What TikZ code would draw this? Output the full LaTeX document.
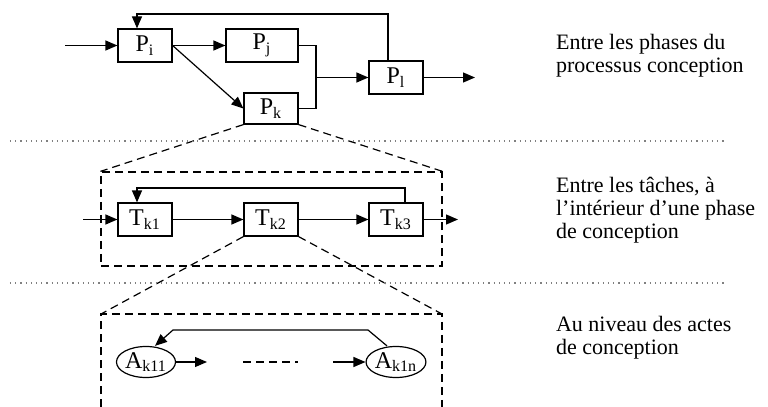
\documentclass[tikz,border=0pt]{standalone}
\usepackage{fontspec}
\setmainfont{Liberation Serif}
\usetikzlibrary{arrows.meta,positioning,calc,shapes.geometric}

\begin{document}
\begin{tikzpicture}[
    x=0.5pt, y=-0.5pt,
    font=\fontsize{11}{11.5}\selectfont,
    box/.style={draw, line width=0.6pt, inner sep=0pt, minimum width=27pt, minimum height=16.5pt, font=\fontsize{12}{12}\selectfont},
    acte/.style={draw, ellipse, line width=0.6pt, inner sep=0pt, minimum width=27pt, minimum height=15.5pt, font=\fontsize{12}{12}\selectfont},
    arr/.style={-{Triangle[length=6pt, width=5pt]}, line width=0.6pt},
    lien/.style={line width=0.6pt},
    zoomline/.style={dashed, dash pattern=on 4pt off 2.5pt, line width=0.6pt},
    sep/.style={dotted, gray, line width=0.6pt},
    lbl/.style={anchor=west, align=left},
]
\useasboundingbox (0,0) rectangle (768,407);

% Phases
\node[box] (pi) at (145,45.5) {P\textsubscript{i}};
\node[box, minimum width=36pt] (pj) at (262,45.5) {P\textsubscript{j}};
\node[box, minimum height=15.5pt] (pk) at (271,108.5) {P\textsubscript{k}};
\node[box] (pl) at (396,77.5) {P\textsubscript{l}};
\coordinate (inp) at (65,45.5);
\coordinate (outp) at (475,77.5);
\coordinate (mrg) at (316,77.5);

\draw[arr] (inp) -- (pi);
\draw[arr] (pi) -- (pj);
\draw[arr] (pi.east) -- (pk.west);
\draw[lien] (pj.east) -| (mrg);
\draw[lien] (pk.east) -| (mrg);
\draw[arr] (mrg) -- (pl);
\draw[arr] (pl) -- (outp);
\draw[arr] ([xshift=-4pt]pl.north) |- (137,14) -- ([xshift=-4pt]pi.north);

% Taches
\node[box] (tk1) at (145,219.5) {T\textsubscript{k1}};
\node[box] (tk2) at (271,219.5) {T\textsubscript{k2}};
\node[box] (tk3) at (396,219.5) {T\textsubscript{k3}};
\node[zoomline, draw, minimum width=170.5pt, minimum height=47pt, inner sep=0pt] (tbox) at (271.5,219) {};
\coordinate (tin) at (83,219.5);
\coordinate (tout) at (458,219.5);

\draw[zoomline] (pk.south west) -- (tbox.north west);
\draw[zoomline] (pk.south east) -- (tbox.north east);
\draw[arr] (tin) -- (tk1);
\draw[arr] (tk1) -- (tk2);
\draw[arr] (tk2) -- (tk3);
\draw[arr] (tk3) -- (tout);
\draw[arr] ([xshift=4.5pt]tk3.north) |- (137,188) -- ([xshift=-4pt]tk1.north);

% Actes
\coordinate (anw) at (101,314);
\coordinate (ane) at (442,314);
\draw[zoomline] (101,420) -- (anw) -- (ane) -- (442,420);
\draw[zoomline] (tk2.south west) -- (anw);
\draw[zoomline] (tk2.south east) -- (ane);

\node[acte] (ak1) at (146,362) {A\textsubscript{k11}};
\node[acte] (akn) at (396,362) {A\textsubscript{k1n}};
\coordinate (a1) at (207,362);
\coordinate (d1) at (243,362);
\coordinate (d2) at (298,362);
\coordinate (a2) at (333,362);
\coordinate (fbr) at (368,330);
\coordinate (fbl) at (173,330);

\draw[arr] (ak1) -- (a1);
\draw[zoomline] (d1) -- (d2);
\draw[arr] (a2) -- (akn);
\draw[arr] ([xshift=-4.5pt]akn.north) -- (fbr) -- (fbl) -- ([xshift=4.5pt]ak1.north);

% Separateurs
\draw[sep] (10,141) -- (725,141);
\draw[sep] (10,283) -- (725,283);

% Niveaux
\node[lbl] (n1) at (549,56) {Entre les phases du\\processus conception};
\node[lbl] (n2) at (549,210) {Entre les t\^aches, \`a\\l'int\'erieur d'une phase\\de conception};
\node[lbl] (n3) at (549,338) {Au niveau des actes\\de conception};
\end{tikzpicture}
\end{document}
